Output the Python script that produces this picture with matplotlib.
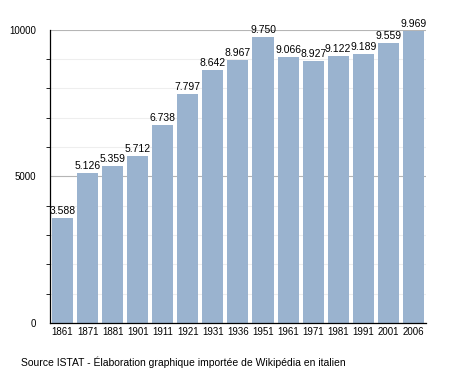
import matplotlib.pyplot as plt
from matplotlib.ticker import MultipleLocator

# Population data (ISTAT)
years = ["1861", "1871", "1881", "1901", "1911", "1921", "1931", "1936",
         "1951", "1961", "1971", "1981", "1991", "2001", "2006"]
population = [3588, 5126, 5359, 5712, 6738, 7797, 8642, 8967,
              9750, 9066, 8927, 9122, 9189, 9559, 9969]

plt.rcParams['font.family'] = ['Liberation Sans', 'DejaVu Sans']

fig = plt.figure(figsize=(4.55, 3.73), dpi=100)
ax = fig.add_axes([0.110, 0.134, 0.826, 0.786])

x = range(len(years))
ax.bar(x, population, width=0.84, color="#9ab3cf", zorder=2)

# value labels with dot as thousands separator
for i, v in enumerate(population):
    label = "{:,}".format(v).replace(",", ".")
    ax.text(i, v + 70, label, ha="center", va="bottom", fontsize=7.5, zorder=3)

ax.set_xlim(-0.5, len(years) - 0.5)
ax.set_ylim(0, 10000)
ax.set_xticks(list(x))
ax.set_xticklabels(years, fontsize=7)
ax.yaxis.set_major_locator(MultipleLocator(5000))
ax.yaxis.set_minor_locator(MultipleLocator(1000))
ax.tick_params(axis="y", which="major", labelsize=7, length=0, pad=10)
ax.tick_params(axis="y", which="minor", length=3, width=0.6)
ax.tick_params(axis="x", length=0, pad=3)

ax.grid(axis="y", which="minor", color="#eeeeee", linewidth=0.8, zorder=0)
ax.grid(axis="y", which="major", color="#b5b5b5", linewidth=0.8, zorder=0)

for side in ["top", "right"]:
    ax.spines[side].set_visible(False)
ax.spines["left"].set_linewidth(0.9)
ax.spines["bottom"].set_linewidth(0.9)

fig.text(0.046, 0.029, "Source ISTAT - Élaboration graphique importée de Wikipédia en italien",
         fontsize=7.5, va="center")

fig.savefig("out.png", dpi=100)
